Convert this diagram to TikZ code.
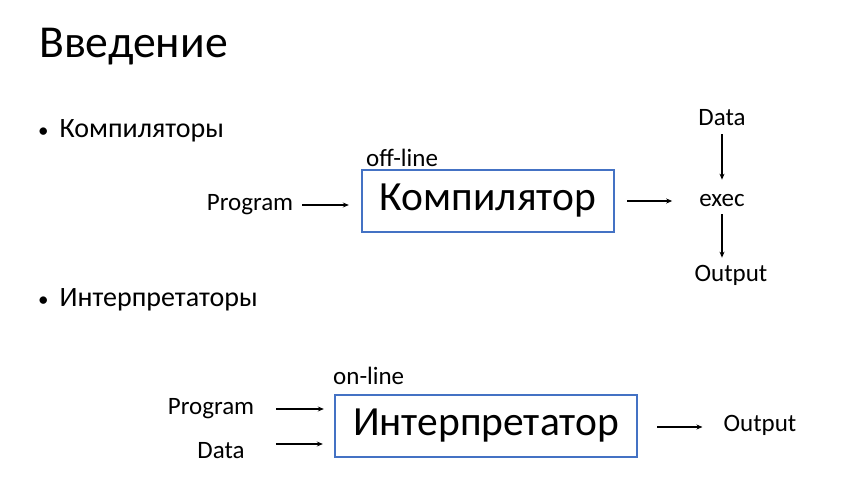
\documentclass[tikz,border=0pt]{standalone}
\usepackage{fontspec}
\setmainfont{Carlito}
\usetikzlibrary{arrows.meta,positioning}
\definecolor{boxblue}{HTML}{4472C4}
\newcommand{\itembullet}{{\fontsize{21}{24}\selectfont•}\hspace{11pt}}

\begin{document}
\begin{tikzpicture}[x=1pt,y=-1pt]
    \useasboundingbox (0,0) rectangle (851,478);

    \tikzset{every node/.style={inner sep=0pt},
        procbox/.style={draw=boxblue,line width=2.4pt,minimum height=62pt,
            font=\fontsize{41.5}{48}\selectfont},
        lbl/.style={font=\fontsize{25}{30}\selectfont},
        item/.style={anchor=base west,font=\fontsize{28}{33}\selectfont},
        flow/.style={-{Stealth[length=6pt,width=5pt]},line width=1.2pt}}

    % headings
    \node[anchor=base west,font=\fontsize{45.7}{54}\selectfont] (title) at (39,58) {Введение};
    \node[item] (compitem) at (38,138) {\itembullet Компиляторы};
    \node[item] (intitem)  at (38,306) {\itembullet Интерпретаторы};

    % compiler
    \node[procbox,minimum width=252pt] (compiler) at (488,201) {Компилятор};
    \node[lbl,anchor=base west] (offline) at (366,167) {off-line};
    \node[lbl] (prog1) at (250,205) {Program};
    \node[lbl] (exec)  at (722,201) {exec};
    \node[lbl] (data1) at (722,118) {Data};
    \node[lbl] (out1)  at (731,275) {Output};

    \draw[flow,shorten <=9pt,shorten >=12pt] (prog1.east) -- (prog1.east -| compiler.west);
    \draw[flow,shorten <=12pt,shorten >=27pt] (compiler.east) -- (compiler.east -| exec.west);
    \draw[flow,shorten <=8pt,shorten >=15pt] (data1.south -| exec) -- (exec.north);
    \draw[flow,shorten <=7pt,shorten >=7pt] (exec.south) -- (exec.south |- out1.north);

    % interpreter
    \node[procbox,minimum width=302pt] (interp) at (486,426) {Интерпретатор};
    \node[lbl,anchor=base west] (online) at (333,384) {on-line};
    \node[lbl] (prog2) at (211,409) {Program};
    \node[lbl] (data2) at (221,451) {Data};
    \node[lbl] (out2)  at (760,425) {Output};

    \draw[flow,shorten <=22pt,shorten >=10pt] (prog2.east) -- (prog2.east -| interp.west);
    \draw[flow,shorten <=31pt,shorten >=11pt] (data2.east) ++(0,-7) coordinate (d2) (d2) -- (d2 -| interp.west);
    \draw[flow,shorten <=19pt,shorten >=21pt] (interp.east) ++(0,1) coordinate (i2) (i2) -- (i2 -| out2.west);
\end{tikzpicture}
\end{document}
